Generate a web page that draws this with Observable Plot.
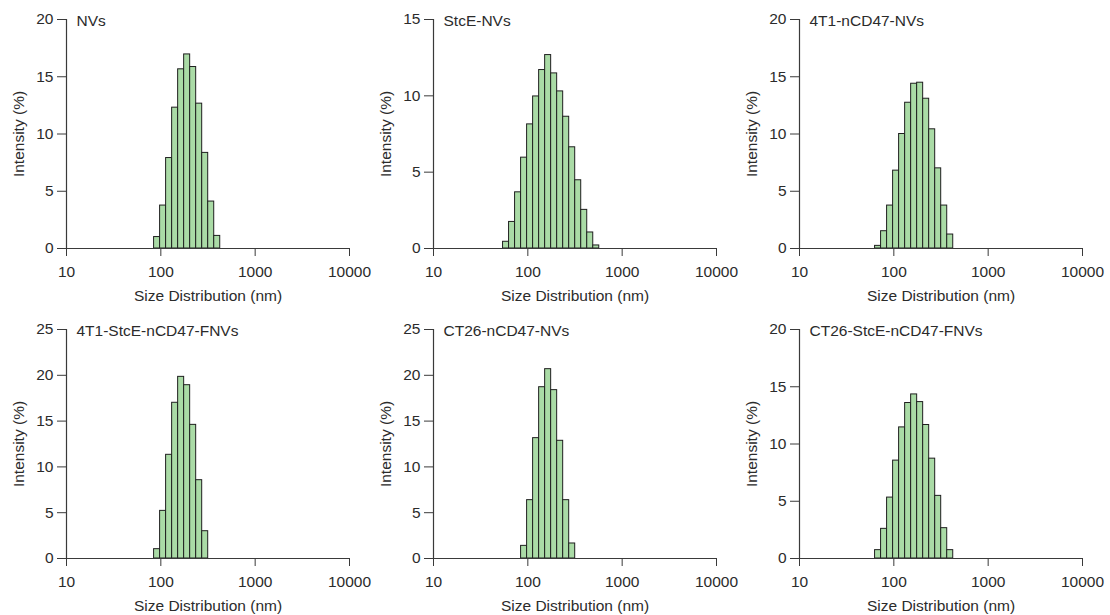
<!DOCTYPE html>
<html>
<head>
<meta charset="utf-8">
<script src="https://cdn.jsdelivr.net/npm/d3@7"></script>
<script src="https://cdn.jsdelivr.net/npm/@observablehq/plot@0.6"></script>
<style>
  html, body { margin: 0; padding: 0; background: #ffffff; }
  #figure { position: relative; width: 1110px; height: 615px; overflow: hidden; }
  #figure > .panel { position: absolute; }
</style>
</head>
<body>
<div id="figure"></div>
<script>
// DLS size classes (nm), geometrically spaced as reported by the instrument
const sizeClasses = [58.77, 68.06, 78.82, 91.28, 105.7, 122.4, 141.8, 164.2, 190.1, 220.2, 255.0, 295.3, 342.0, 396.1, 458.7, 531.2];

// Intensity (%) per size class for each sample (0 = empty class)
const intensityNVs          = [0, 0, 0, 1.0, 3.75, 7.9, 12.3, 15.65, 16.95, 15.85, 12.65, 8.35, 4.1, 1.1, 0, 0];
const intensityStcENVs      = [0.44, 1.74, 3.68, 5.95, 8.13, 9.96, 11.69, 12.67, 11.47, 10.29, 8.63, 6.63, 4.47, 2.53, 1.05, 0.2];
const intensity4T1nCD47     = [0, 0.23, 1.51, 3.75, 6.8, 10.0, 12.73, 14.39, 14.48, 13.08, 10.41, 7.0, 3.75, 1.22, 0, 0];
const intensity4T1StcEFNVs  = [0, 0, 0, 1.02, 5.2, 11.32, 17.0, 19.83, 18.92, 14.59, 8.55, 2.98, 0, 0, 0, 0];
const intensityCT26nCD47    = [0, 0, 0, 1.38, 6.37, 13.14, 18.7, 20.67, 18.38, 12.85, 6.37, 1.64, 0, 0, 0, 0];
const intensityCT26StcEFNVs = [0, 0.73, 2.59, 5.32, 8.55, 11.45, 13.58, 14.33, 13.66, 11.66, 8.72, 5.47, 2.65, 0.73, 0, 0];

const panelTitles = ["NVs", "StcE-NVs", "4T1-nCD47-NVs", "4T1-StcE-nCD47-FNVs", "CT26-nCD47-NVs", "CT26-StcE-nCD47-FNVs"];
const panelSeries = [intensityNVs, intensityStcENVs, intensity4T1nCD47, intensity4T1StcEFNVs, intensityCT26nCD47, intensityCT26StcEFNVs];
const yAxisMax = [20, 15, 20, 25, 25, 20];
const xTickValues = [10, 100, 1000, 10000];

const xLabel = "Size Distribution (nm)";
const yLabel = "Intensity (%)";

// each size class spans one geometric step (70 classes from 0.4 nm to 10 µm)
const classRatio = Math.pow(10000 / 0.4, 1 / 69);
const halfStep = Math.sqrt(classRatio);

const panelLeft = [0, 367, 733];
const panelTop = [0, 310];

const figure = document.getElementById("figure");

panelTitles.forEach((title, i) => {
  const values = panelSeries[i];
  const ymax = yAxisMax[i];
  const bars = sizeClasses
    .map((size, k) => ({x1: size / halfStep, x2: size * halfStep, v: values[k]}))
    .filter(d => d.v > 0);

  const chart = Plot.plot({
    width: 370,
    height: 305,
    marginLeft: 66,
    marginRight: 21,
    marginTop: 19,
    marginBottom: 57,
    style: {
      fontFamily: "'Liberation Sans', Arial, sans-serif",
      fontSize: "15.5px",
      color: "#2b2b2b",
      background: "transparent",
      overflow: "visible"
    },
    x: {type: "log", domain: [10, 10000]},
    y: {domain: [0, ymax]},
    marks: [
      Plot.rectY(bars, {x1: "x1", x2: "x2", y: "v", fill: "#aadba6", stroke: "#1f1f1f", strokeWidth: 1}),
      Plot.ruleY([0], {stroke: "#3a3a3a", strokeWidth: 1.2}),
      Plot.ruleX([10], {y1: 0, y2: ymax, stroke: "#3a3a3a", strokeWidth: 1.2}),
      Plot.axisX({
        ticks: xTickValues,
        tickFormat: d3.format("d"),
        tickSize: 8,
        tickPadding: 9,
        stroke: "#3a3a3a",
        label: xLabel,
        labelAnchor: "center",
        labelArrow: "none",
        labelOffset: 52
      }),
      Plot.axisY({
        ticks: d3.range(0, ymax + 1, 5),
        tickSize: 9,
        tickPadding: 4,
        stroke: "#3a3a3a",
        label: yLabel,
        labelAnchor: "center",
        labelArrow: "none",
        labelOffset: 54
      }),
      Plot.text([title], {
        frameAnchor: "top-left",
        dx: 10,
        dy: 1.5,
        textAnchor: "start",
        lineAnchor: "middle",
        fontSize: 15.5,
        fill: "#2b2b2b"
      })
    ]
  });

  const holder = document.createElement("div");
  holder.className = "panel";
  holder.style.left = panelLeft[i % 3] + "px";
  holder.style.top = panelTop[Math.floor(i / 3)] + "px";
  holder.appendChild(chart);
  figure.appendChild(holder);
});
</script>
</body>
</html>
